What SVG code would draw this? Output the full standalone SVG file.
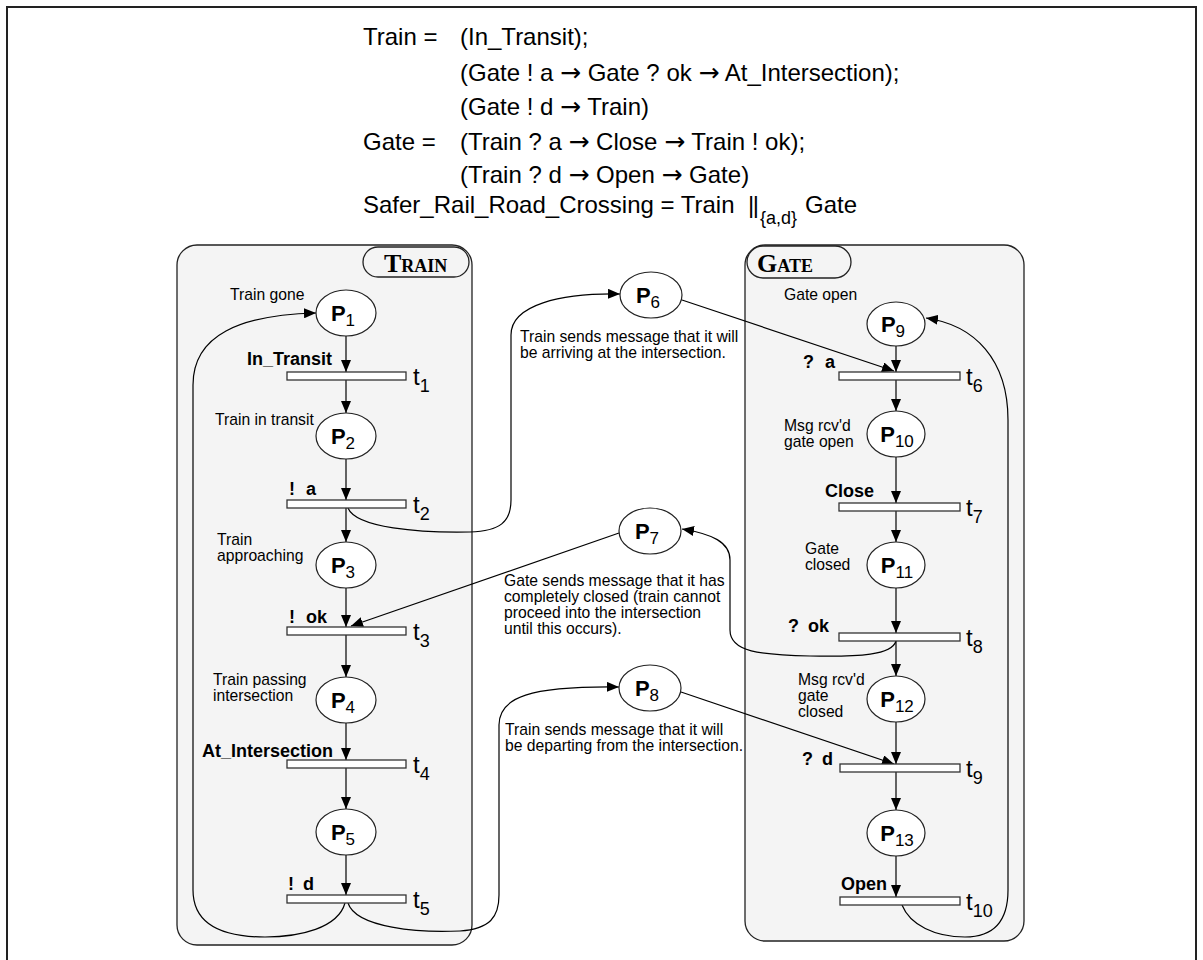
<svg xmlns="http://www.w3.org/2000/svg" width="1203" height="960" viewBox="0 0 1203 960">
<style>
.f{font-family:"Liberation Sans",Arial,sans-serif;fill:#000}
.big{font-size:24px}
.ar{font-family:"DejaVu Sans",sans-serif;font-size:25px}
.lbl{font-size:15.7px}
.bl{font-size:18px;font-weight:bold}
.pl{font-size:22px;font-weight:bold}
.ps{font-size:17px;font-weight:normal}
.tl{font-size:24px}
.box{fill:#f4f4f4;stroke:#222;stroke-width:1.3}
.tab{fill:#f4f4f4;stroke:#222;stroke-width:1.3}
.tabt{font-family:"Liberation Serif","Times New Roman",serif;font-weight:bold;fill:#000}
.pl-e{fill:#fff;stroke:#222;stroke-width:1.2}
.bar{fill:#fff;stroke:#333;stroke-width:1.3}
.c{fill:none;stroke:#000;stroke-width:1.2}
.ca{fill:none;stroke:#000;stroke-width:1.2;marker-end:url(#ah)}
</style>
<defs>
<marker id="ah" viewBox="0 0 12 10" refX="12" refY="5" markerWidth="12" markerHeight="10" markerUnits="userSpaceOnUse" orient="auto"><path d="M0,0 L12,5 L0,10 z" fill="#000"/></marker>
</defs>
<rect width="1203" height="960" fill="#fff"/>
<path d="M7,960 V7 H1196 V960" fill="none" stroke="#222" stroke-width="2"/>

<g id="formula" class="f big">
<text x="363" y="45">Train =</text>
<text x="460" y="45">(In_Transit);</text>
<text x="460" y="81">(Gate ! a <tspan class="ar">→</tspan> Gate ? ok <tspan class="ar">→</tspan> At_Intersection);</text>
<text x="460" y="115">(Gate ! d <tspan class="ar">→</tspan> Train)</text>
<text x="363" y="150">Gate =</text>
<text x="460" y="150">(Train ? a <tspan class="ar">→</tspan> Close <tspan class="ar">→</tspan> Train ! ok);</text>
<text x="460" y="183">(Train ? d <tspan class="ar">→</tspan> Open <tspan class="ar">→</tspan> Gate)</text>
<text x="363" y="213">Safer_Rail_Road_Crossing = Train</text>
<text x="748" y="213" letter-spacing="-1.5">||</text>
<text x="760" y="224" font-size="18">{a,d}</text>
<text x="805" y="213">Gate</text>
</g>

<g id="train-box">
<rect class="box" x="177" y="245" width="295" height="700" rx="20"/>
<rect class="tab" x="363" y="247" width="106" height="30" rx="15"/>
<text class="tabt" x="384" y="272"><tspan font-size="26">T</tspan><tspan font-size="18">RAIN</tspan></text>
</g>
<g id="gate-box">
<rect class="box" x="745" y="245" width="279" height="696" rx="20"/>
<rect class="tab" x="747" y="246" width="104" height="32" rx="16"/>
<text class="tabt" x="757" y="272"><tspan font-size="26">G</tspan><tspan font-size="18">ATE</tspan></text>
</g>

<g id="connectors">
<path class="ca" d="M346,336 V372"/>
<path class="ca" d="M346,380 V413"/>
<path class="ca" d="M346,459 V500"/>
<path class="ca" d="M346,508 V542"/>
<path class="ca" d="M346,588 V627"/>
<path class="ca" d="M346,635 V677"/>
<path class="ca" d="M346,723 V760"/>
<path class="ca" d="M346,768 V809"/>
<path class="ca" d="M346,855 V895"/>
<path class="ca" d="M896,346 V372"/>
<path class="ca" d="M896,380 V411"/>
<path class="ca" d="M896,457 V503"/>
<path class="ca" d="M896,511 V542"/>
<path class="ca" d="M896,588 V633"/>
<path class="ca" d="M896,641 V676"/>
<path class="ca" d="M896,722 V764"/>
<path class="ca" d="M896,772 V810"/>
<path class="ca" d="M896,856 V897"/>
<path class="ca" d="M345,903 C338,928 300,937 265,937 C215,937 193,920 193,890 V385 C193,335 240,315 316,313"/>
<path class="ca" d="M348,508 C356,528 420,533 470,532 C500,531 511,522 511,500 V335 C511,305 560,293 620,294"/>
<path class="ca" d="M682,300 L894,371"/>
<path class="ca" d="M896,641 C892,655 860,657 810,656 C760,655 730,652 730,630 V560 C730,542 712,534 682,529"/>
<path class="ca" d="M619,533 L351,626"/>
<path class="ca" d="M348,903 C356,928 420,933 460,931 C490,929 499,917 499,895 V725 C499,697 530,686 619,687"/>
<path class="ca" d="M681,692 L894,764"/>
<path class="ca" d="M902,905 C910,925 935,937 965,937 C995,937 1008,920 1008,890 V420 C1008,360 975,325 926,318"/>
</g>

<g id="P1"><ellipse class="pl-e" cx="346" cy="313" rx="30" ry="23"/><text class="f pl" x="343" y="321" text-anchor="middle">P<tspan class="ps" dy="5">1</tspan></text></g>
<g id="P2"><ellipse class="pl-e" cx="346" cy="436" rx="30" ry="23"/><text class="f pl" x="343" y="444" text-anchor="middle">P<tspan class="ps" dy="5">2</tspan></text></g>
<g id="P3"><ellipse class="pl-e" cx="346" cy="565" rx="30" ry="23"/><text class="f pl" x="343" y="573" text-anchor="middle">P<tspan class="ps" dy="5">3</tspan></text></g>
<g id="P4"><ellipse class="pl-e" cx="346" cy="700" rx="30" ry="23"/><text class="f pl" x="343" y="708" text-anchor="middle">P<tspan class="ps" dy="5">4</tspan></text></g>
<g id="P5"><ellipse class="pl-e" cx="346" cy="832" rx="30" ry="23"/><text class="f pl" x="343" y="840" text-anchor="middle">P<tspan class="ps" dy="5">5</tspan></text></g>
<g id="P6"><ellipse class="pl-e" cx="651" cy="295" rx="31" ry="23"/><text class="f pl" x="648" y="303" text-anchor="middle">P<tspan class="ps" dy="5">6</tspan></text></g>
<g id="P7"><ellipse class="pl-e" cx="650" cy="531" rx="31" ry="23"/><text class="f pl" x="647" y="539" text-anchor="middle">P<tspan class="ps" dy="5">7</tspan></text></g>
<g id="P8"><ellipse class="pl-e" cx="650" cy="688" rx="31" ry="23"/><text class="f pl" x="647" y="696" text-anchor="middle">P<tspan class="ps" dy="5">8</tspan></text></g>
<g id="P9"><ellipse class="pl-e" cx="896" cy="324" rx="29" ry="22"/><text class="f pl" x="893" y="332" text-anchor="middle">P<tspan class="ps" dy="5">9</tspan></text></g>
<g id="P10"><ellipse class="pl-e" cx="896" cy="434" rx="29" ry="23"/><text class="f pl" x="897" y="442" text-anchor="middle">P<tspan class="ps" dy="5">10</tspan></text></g>
<g id="P11"><ellipse class="pl-e" cx="896" cy="565" rx="29" ry="23"/><text class="f pl" x="897" y="573" text-anchor="middle">P<tspan class="ps" dy="5">11</tspan></text></g>
<g id="P12"><ellipse class="pl-e" cx="896" cy="699" rx="29" ry="23"/><text class="f pl" x="897" y="707" text-anchor="middle">P<tspan class="ps" dy="5">12</tspan></text></g>
<g id="P13"><ellipse class="pl-e" cx="896" cy="833" rx="29" ry="23"/><text class="f pl" x="897" y="841" text-anchor="middle">P<tspan class="ps" dy="5">13</tspan></text></g>

<g id="t1"><rect class="bar" x="287" y="372" width="119" height="8"/><text class="f tl" x="413" y="385">t<tspan font-size="18" dy="7">1</tspan></text><text class="f bl" x="332" y="365" text-anchor="end">In_Transit</text></g>
<g id="t2"><rect class="bar" x="287" y="500" width="119" height="8"/><text class="f tl" x="413" y="513">t<tspan font-size="18" dy="7">2</tspan></text><text class="f bl" x="289" y="495">!<tspan x="306">a</tspan></text></g>
<g id="t3"><rect class="bar" x="287" y="627" width="119" height="8"/><text class="f tl" x="413" y="640">t<tspan font-size="18" dy="7">3</tspan></text><text class="f bl" x="289" y="623">!<tspan x="306">ok</tspan></text></g>
<g id="t4"><rect class="bar" x="287" y="760" width="119" height="8"/><text class="f tl" x="413" y="773">t<tspan font-size="18" dy="7">4</tspan></text><text class="f bl" x="333" y="757" text-anchor="end">At_Intersection</text></g>
<g id="t5"><rect class="bar" x="287" y="895" width="119" height="8"/><text class="f tl" x="413" y="908">t<tspan font-size="18" dy="7">5</tspan></text><text class="f bl" x="288" y="890">!<tspan x="303">d</tspan></text></g>
<g id="t6"><rect class="bar" x="839" y="372" width="121" height="8"/><text class="f tl" x="966" y="385">t<tspan font-size="18" dy="7">6</tspan></text><text class="f bl" x="803" y="368">?<tspan x="825">a</tspan></text></g>
<g id="t7"><rect class="bar" x="839" y="503" width="121" height="8"/><text class="f tl" x="966" y="516">t<tspan font-size="18" dy="7">7</tspan></text><text class="f bl" x="825" y="497">Close</text></g>
<g id="t8"><rect class="bar" x="839" y="633" width="121" height="8"/><text class="f tl" x="966" y="646">t<tspan font-size="18" dy="7">8</tspan></text><text class="f bl" x="788" y="632">?<tspan x="808">ok</tspan></text></g>
<g id="t9"><rect class="bar" x="840" y="764" width="120" height="8"/><text class="f tl" x="966" y="777">t<tspan font-size="18" dy="7">9</tspan></text><text class="f bl" x="802" y="765">?<tspan x="822">d</tspan></text></g>
<g id="t10"><rect class="bar" x="840" y="897" width="120" height="8"/><text class="f tl" x="966" y="910">t<tspan font-size="18" dy="7">10</tspan></text><text class="f bl" x="841" y="890">Open</text></g>

<g id="labels" class="f lbl">
<text x="230" y="300">Train gone</text>
<text x="215" y="425">Train in transit</text>
<text x="217" y="545">Train</text>
<text x="217" y="561">approaching</text>
<text x="213" y="685">Train passing</text>
<text x="213" y="701">intersection</text>
<text x="520" y="342">Train sends message that it will</text>
<text x="520" y="358">be arriving at the intersection.</text>
<text x="504" y="586">Gate sends message that it has</text>
<text x="504" y="602">completely closed (train cannot</text>
<text x="504" y="618">proceed into the intersection</text>
<text x="504" y="634">until this occurs).</text>
<text x="505" y="735">Train sends message that it will</text>
<text x="505" y="751">be departing from the intersection.</text>
<text x="784" y="300">Gate open</text>
<text x="784" y="431">Msg rcv'd</text>
<text x="784" y="447">gate open</text>
<text x="805" y="554">Gate</text>
<text x="805" y="570">closed</text>
<text x="798" y="685">Msg rcv'd</text>
<text x="798" y="701">gate</text>
<text x="798" y="717">closed</text>
</g>
</svg>
